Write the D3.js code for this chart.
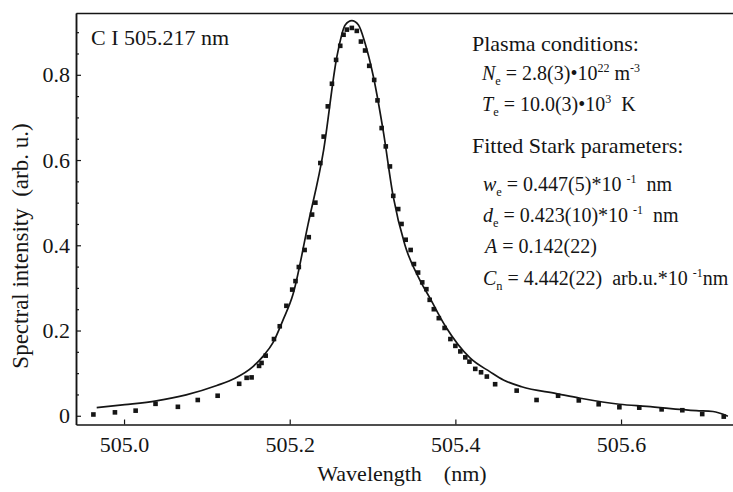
<!DOCTYPE html>
<html>
<head>
<meta charset="utf-8">
<script src="https://cdn.jsdelivr.net/npm/d3@7"></script>
<style>
  body { margin: 0; background: #fff; }
  text { font-family: "Liberation Serif", "Times New Roman", serif; fill: #151515; }
</style>
</head>
<body>
<svg id="chart" width="733" height="492"></svg>
<script>
// measured profile (dots)
const measuredWl = [
  504.963, 504.989, 505.014, 505.038, 505.065, 505.089, 505.113, 505.139, 505.148, 505.154,
  505.163, 505.166, 505.171, 505.181, 505.188, 505.196, 505.203, 505.207, 505.211, 505.218,
  505.223, 505.227, 505.231, 505.237, 505.241, 505.246, 505.251, 505.256, 505.261, 505.265,
  505.269, 505.275, 505.281, 505.286, 505.291, 505.296, 505.302, 505.306, 505.311, 505.316,
  505.321, 505.325, 505.331, 505.335, 505.340, 505.346, 505.350, 505.355, 505.360, 505.365,
  505.369, 505.374, 505.380, 505.387, 505.394, 505.400, 505.406, 505.412, 505.417, 505.424,
  505.431, 505.438, 505.448, 505.474, 505.498, 505.524, 505.549, 505.573, 505.598, 505.622,
  505.649, 505.674, 505.698, 505.724
];
const measuredInt = [
  0.003, 0.008, 0.012, 0.028, 0.021, 0.037, 0.047, 0.075, 0.089, 0.090,
  0.117, 0.124, 0.141, 0.180, 0.210, 0.258, 0.296, 0.316, 0.349, 0.389,
  0.419, 0.472, 0.500, 0.593, 0.655, 0.726, 0.779, 0.835, 0.868, 0.894,
  0.906, 0.910, 0.903, 0.878, 0.857, 0.821, 0.788, 0.740, 0.675, 0.632,
  0.585, 0.516, 0.485, 0.450, 0.413, 0.389, 0.356, 0.336, 0.313, 0.297,
  0.272, 0.250, 0.229, 0.206, 0.180, 0.164, 0.151, 0.137, 0.127, 0.110,
  0.102, 0.092, 0.074, 0.059, 0.037, 0.047, 0.036, 0.027, 0.020, 0.019,
  0.015, 0.013, 0.004, -0.002
];

// fitted profile (solid line)
const fitWl = [
  504.967, 505.001, 505.039, 505.075, 505.112, 505.134, 505.156, 505.168, 505.180, 505.192,
  505.204, 505.222, 505.241, 505.257, 505.267, 505.275, 505.283, 505.291, 505.301, 505.313,
  505.325, 505.339, 505.357, 505.369, 505.388, 505.418, 505.442, 505.458, 505.480, 505.522,
  505.551, 505.598, 505.631, 505.691, 505.711, 505.729
];
const fitInt = [
  0.019, 0.026, 0.035, 0.049, 0.071, 0.088, 0.116, 0.140, 0.172, 0.225,
  0.285, 0.448, 0.624, 0.843, 0.917, 0.927, 0.917, 0.874, 0.796, 0.667,
  0.514, 0.401, 0.319, 0.277, 0.210, 0.135, 0.103, 0.084, 0.068, 0.052,
  0.041, 0.027, 0.022, 0.012, 0.010, -0.001
];

const xTicks = [505.0, 505.2, 505.4, 505.6];
const xTickLabels = ['505.0', '505.2', '505.4', '505.6'];
const yTicks = [0, 0.2, 0.4, 0.6, 0.8];
const yTickLabels = ['0', '0.2', '0.4', '0.6', '0.8'];
const yMinorTicks = [0.05, 0.1, 0.15, 0.25, 0.3, 0.35, 0.45, 0.5, 0.55, 0.65, 0.7, 0.75, 0.85, 0.9];

const lineLabel = 'C I 505.217 nm';
const xTitle = 'Wavelength    (nm)';
const yTitle = 'Spectral intensity  (arb. u.)';

// annotation text: [text, style]  style: '' normal, 'i' italic, 'sub', 'sup'
const annoLines = [
  [['Plasma conditions:', '']],
  [['N', 'i'], ['e', 'sub'], [' = 2.8(3)\u202210', ''], ['22', 'sup'], [' m', ''], ['-3', 'sup']],
  [['T', 'i'], ['e', 'sub'], [' = 10.0(3)\u202210', ''], ['3', 'sup'], ['  K', '']],
  [['Fitted Stark parameters:', '']],
  [['w', 'i'], ['e', 'sub'], [' = 0.447(5)*10 ', ''], ['-1', 'sup'], ['  nm', '']],
  [['d', 'i'], ['e', 'sub'], [' = 0.423(10)*10 ', ''], ['-1', 'sup'], ['  nm', '']],
  [['A', 'i'], [' = 0.142(22)', '']],
  [['C', 'i'], ['n', 'sub'], [' = 4.442(22)  arb.u.*10 ', ''], ['-1', 'sup'], ['nm', '']]
];

const svg = d3.select('#chart');
const mLeft = 76, mRight = 737, mTop = 13, mBottom = 424.5;

const x = d3.scaleLinear().domain([504.942, 505.740]).range([mLeft, mRight]);
const y = d3.scaleLinear().domain([-0.0205, 0.945]).range([mBottom, mTop]);

const ink = '#151515';

// frame
svg.append('g')
  .attr('transform', `translate(0,${mTop})`)
  .call(d3.axisTop(x).tickValues([]).tickSizeOuter(0));
svg.append('g')
  .attr('transform', `translate(${mRight},0)`)
  .call(d3.axisRight(y).tickValues([]).tickSizeOuter(0));

// y axis
const yAxis = svg.append('g')
  .attr('transform', `translate(${mLeft},0)`)
  .call(d3.axisLeft(y).tickValues(yTicks).tickSize(-5).tickSizeOuter(0).tickPadding(6)
    .tickFormat((d, i) => yTickLabels[i]));
svg.append('g')
  .attr('transform', `translate(${mLeft},0)`)
  .call(d3.axisLeft(y).tickValues(yMinorTicks).tickSize(-3).tickSizeOuter(0).tickFormat(''));

// x axis
const xAxis = svg.append('g')
  .attr('transform', `translate(0,${mBottom})`)
  .call(d3.axisBottom(x).tickValues(xTicks).tickSize(-5).tickSizeOuter(0).tickPadding(12)
    .tickFormat((d, i) => xTickLabels[i]));

svg.selectAll('.domain').attr('stroke', ink).attr('stroke-width', 1.5);
svg.selectAll('.tick line').attr('stroke', ink).attr('stroke-width', 1.2);
svg.selectAll('.tick text')
  .attr('fill', ink)
  .style('font-family', '"Liberation Serif", serif')
  .style('font-size', '22px');

// fitted line
const fitData = fitWl.map((w, i) => ({ w: w, v: fitInt[i] }));
svg.append('path')
  .datum(fitData)
  .attr('fill', 'none')
  .attr('stroke', ink)
  .attr('stroke-width', 1.7)
  .attr('d', d3.line()
    .x(d => x(d.w))
    .y(d => y(d.v))
    .curve(d3.curveMonotoneX));

// measured dots
const pts = measuredWl.map((w, i) => ({ w: w, v: measuredInt[i] }));
svg.append('g')
  .selectAll('rect')
  .data(pts)
  .enter()
  .append('rect')
  .attr('x', d => x(d.w) - 2.3)
  .attr('y', d => y(d.v) - 2.3)
  .attr('width', 4.6)
  .attr('height', 4.6)
  .attr('fill', ink);

// titles
svg.append('text')
  .attr('x', 402)
  .attr('y', 481)
  .attr('text-anchor', 'middle')
  .style('font-size', '22px')
  .style('white-space', 'pre')
  .text(xTitle);

svg.append('text')
  .attr('transform', 'translate(28,246) rotate(-90)')
  .attr('text-anchor', 'middle')
  .style('font-size', '23px')
  .style('white-space', 'pre')
  .text(yTitle);

svg.append('text')
  .attr('x', 91)
  .attr('y', 45)
  .style('font-size', '22px')
  .text(lineLabel);

// annotation block
const annoX = [472, 482, 482, 472, 483, 483, 485, 483];
const annoY = [51, 80, 111, 153, 191, 222, 253, 285];
annoLines.forEach((segs, li) => {
  const header = segs.length === 1;
  const base = header ? 22 : 20;
  const t = svg.append('text')
    .attr('x', annoX[li])
    .attr('y', annoY[li])
    .style('font-size', base + 'px')
    .style('white-space', 'pre');
  let shift = 0;
  segs.forEach(([str, st]) => {
    let target = 0;
    let size = base;
    if (st === 'sub') { target = 5; size = base * 0.62; }
    if (st === 'sup') { target = -8; size = base * 0.6; }
    const ts = t.append('tspan')
      .attr('dy', target - shift)
      .style('font-size', size + 'px')
      .text(str);
    if (st === 'i') ts.style('font-style', 'italic');
    shift = target;
  });
});
</script>
</body>
</html>
